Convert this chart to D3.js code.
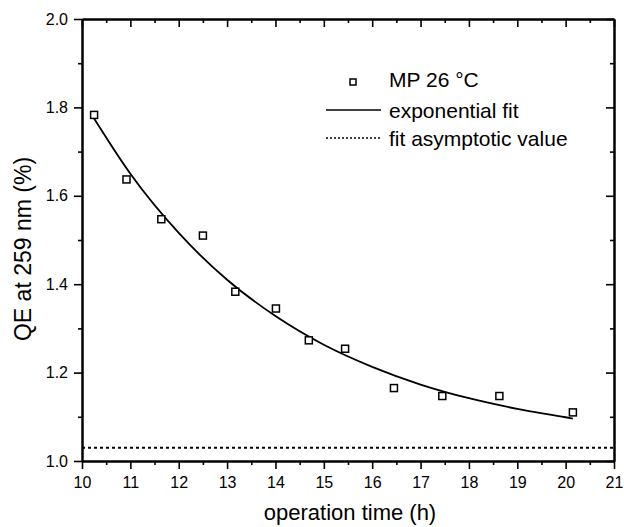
<!DOCTYPE html>
<html>
<head>
<meta charset="utf-8">
<script src="https://cdn.jsdelivr.net/npm/d3@7"></script>
<style>
  body { margin: 0; background: #fff; }
  svg { display: block; font-family: "Liberation Sans", Arial, sans-serif; }
</style>
</head>
<body>
<div id="chart"></div>
<script>
// Data
var time_h      = [10.25, 10.92, 11.64, 12.50, 13.17, 14.01, 14.69, 15.44, 16.45, 17.45, 18.63, 20.15];
var qe_values   = [1.783, 1.637, 1.547, 1.510, 1.383, 1.345, 1.273, 1.254, 1.165, 1.147, 1.147, 1.110];
var fit_time    = [10.25, 11, 12, 13, 14, 15, 16, 17, 18, 19, 20, 20.15];
var fit_values  = [1.775, 1.650, 1.516, 1.410, 1.328, 1.263, 1.213, 1.173, 1.142, 1.118, 1.099, 1.096];
var asymptote   = 1.03;
var x_ticks     = [10, 11, 12, 13, 14, 15, 16, 17, 18, 19, 20, 21];
var x_minor     = [10.5, 11.5, 12.5, 13.5, 14.5, 15.5, 16.5, 17.5, 18.5, 19.5, 20.5];
var y_ticks     = [1.0, 1.2, 1.4, 1.6, 1.8, 2.0];
var y_minor     = [1.1, 1.3, 1.5, 1.7, 1.9];
var legend_labels = ['MP 26 \u00B0C', 'exponential fit', 'fit asymptotic value'];

var chart_width  = 624;
var chart_height = 527;
var margin = { top: 19, right: 10, bottom: 66, left: 82 };
var w = chart_width - margin.left - margin.right;
var h = chart_height - margin.top - margin.bottom;

// Scales
var x_scale = d3.scaleLinear().domain([10, 21]).range([0, w]);
var y_scale = d3.scaleLinear().domain([1.0, 2.0]).range([h, 0]);

var svg = d3.select('#chart')
    .append('svg')
    .attr('width', chart_width)
    .attr('height', chart_height);

var g = svg.append('g')
    .attr('transform', 'translate(' + margin.left + ',' + margin.top + ')');

// Asymptote (dotted)
g.append('line')
    .attr('x1', x_scale(10)).attr('x2', x_scale(21))
    .attr('y1', y_scale(asymptote)).attr('y2', y_scale(asymptote))
    .attr('stroke', '#000')
    .attr('stroke-width', 2)
    .attr('stroke-dasharray', '3,3');

// Fit curve
var fit_line = d3.line()
    .x(function(d, i) { return x_scale(fit_time[i]); })
    .y(function(d) { return y_scale(d); })
    .curve(d3.curveMonotoneX);

g.append('path')
    .datum(fit_values)
    .attr('d', fit_line)
    .attr('fill', 'none')
    .attr('stroke', '#000')
    .attr('stroke-width', 1.8);

// Points
g.selectAll('rect.pt')
    .data(qe_values)
    .enter()
    .append('rect')
    .attr('class', 'pt')
    .attr('x', function(d, i) { return x_scale(time_h[i]) - 3.5; })
    .attr('y', function(d) { return y_scale(d) - 3.5; })
    .attr('width', 7)
    .attr('height', 7)
    .attr('fill', '#fff')
    .attr('stroke', '#000')
    .attr('stroke-width', 1.5);

// Axes
function style_axis(sel) {
    sel.select('.domain').attr('stroke-width', 2);
    sel.selectAll('.tick line').attr('stroke-width', 1.6);
    sel.selectAll('text').attr('font-size', 16).attr('fill', '#000')
        .attr('font-family', '"Liberation Sans", Arial, sans-serif');
}

// bottom
g.append('g').attr('transform', 'translate(0,' + h + ')')
    .call(d3.axisBottom(x_scale).tickValues(x_ticks).tickFormat(d3.format('d'))
        .tickSizeInner(8).tickSizeOuter(0).tickPadding(8))
    .call(style_axis);
g.append('g').attr('transform', 'translate(0,' + h + ')')
    .call(d3.axisBottom(x_scale).tickValues(x_minor).tickFormat('')
        .tickSizeInner(4).tickSizeOuter(0))
    .call(style_axis);

// top (ticks point into plot)
g.append('g')
    .call(d3.axisBottom(x_scale).tickValues(x_ticks).tickFormat('')
        .tickSizeInner(8).tickSizeOuter(0))
    .call(style_axis);
g.append('g')
    .call(d3.axisBottom(x_scale).tickValues(x_minor).tickFormat('')
        .tickSizeInner(4).tickSizeOuter(0))
    .call(style_axis);

// left
g.append('g')
    .call(d3.axisLeft(y_scale).tickValues(y_ticks).tickFormat(d3.format('.1f'))
        .tickSizeInner(8).tickSizeOuter(0).tickPadding(6))
    .call(style_axis);
g.append('g')
    .call(d3.axisLeft(y_scale).tickValues(y_minor).tickFormat('')
        .tickSizeInner(4).tickSizeOuter(0))
    .call(style_axis);

// right (ticks point into plot)
g.append('g').attr('transform', 'translate(' + w + ',0)')
    .call(d3.axisLeft(y_scale).tickValues(y_ticks).tickFormat('')
        .tickSizeInner(8).tickSizeOuter(0))
    .call(style_axis);
g.append('g').attr('transform', 'translate(' + w + ',0)')
    .call(d3.axisLeft(y_scale).tickValues(y_minor).tickFormat('')
        .tickSizeInner(4).tickSizeOuter(0))
    .call(style_axis);

// Axis titles
svg.append('text')
    .attr('x', 350)
    .attr('y', 520)
    .attr('text-anchor', 'middle')
    .attr('font-size', 22)
    .text('operation time (h)');

svg.append('text')
    .attr('transform', 'translate(31,249) rotate(-90)')
    .attr('text-anchor', 'middle')
    .attr('font-size', 23)
    .text('QE at 259 nm (%)');

// Legend
var legend = svg.append('g');
legend.append('rect')
    .attr('x', 350).attr('y', 79)
    .attr('width', 6).attr('height', 6)
    .attr('fill', '#fff').attr('stroke', '#000').attr('stroke-width', 1.5);
legend.append('line')
    .attr('x1', 326).attr('x2', 381).attr('y1', 110).attr('y2', 110)
    .attr('stroke', '#000').attr('stroke-width', 1.6);
legend.append('line')
    .attr('x1', 326).attr('x2', 381).attr('y1', 138).attr('y2', 138)
    .attr('stroke', '#000').attr('stroke-width', 1.6)
    .attr('stroke-dasharray', '2,2');

legend.selectAll('text')
    .data(legend_labels)
    .enter()
    .append('text')
    .attr('x', 389)
    .attr('y', function(d, i) { return [87, 118, 146][i]; })
    .attr('font-size', 21)
    .text(function(d) { return d; });
</script>
</body>
</html>
